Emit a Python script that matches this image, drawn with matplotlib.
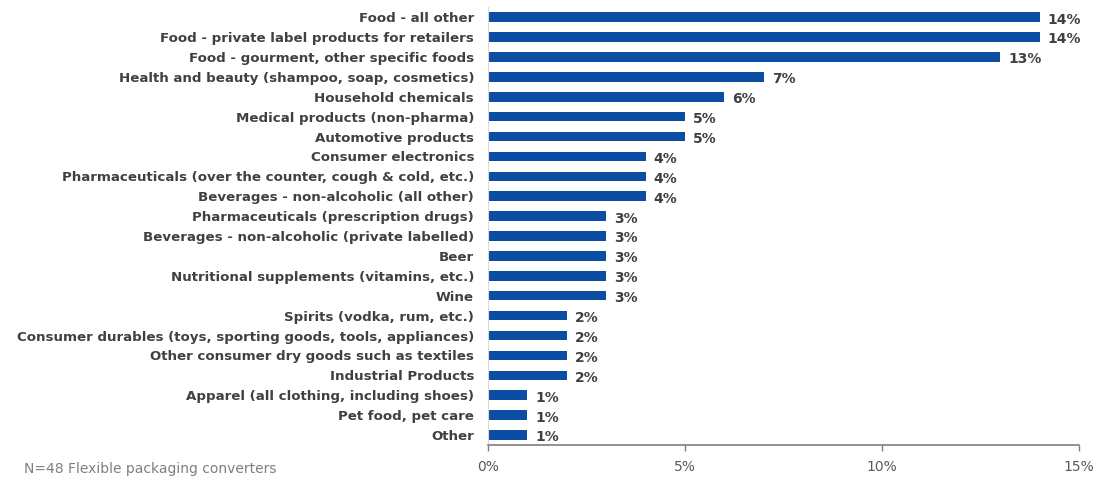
import matplotlib
matplotlib.use("Agg")
import matplotlib.pyplot as plt
from matplotlib.ticker import FuncFormatter

categories = [
    "Food - all other",
    "Food - private label products for retailers",
    "Food - gourment, other specific foods",
    "Health and beauty (shampoo, soap, cosmetics)",
    "Household chemicals",
    "Medical products (non-pharma)",
    "Automotive products",
    "Consumer electronics",
    "Pharmaceuticals (over the counter, cough & cold, etc.)",
    "Beverages - non-alcoholic (all other)",
    "Pharmaceuticals (prescription drugs)",
    "Beverages - non-alcoholic (private labelled)",
    "Beer",
    "Nutritional supplements (vitamins, etc.)",
    "Wine",
    "Spirits (vodka, rum, etc.)",
    "Consumer durables (toys, sporting goods, tools, appliances)",
    "Other consumer dry goods such as textiles",
    "Industrial Products",
    "Apparel (all clothing, including shoes)",
    "Pet food, pet care",
    "Other",
]
shares = [14, 14, 13, 7, 6, 5, 5, 4, 4, 4, 3, 3, 3, 3, 3, 2, 2, 2, 2, 1, 1, 1]
x_ticks = [0, 5, 10, 15]
footnote = "N=48 Flexible packaging converters"

bar_color = "#0B4DA2"
text_color = "#404040"

plt.rcParams['font.family'] = ['DejaVu Sans']

fig = plt.figure(figsize=(11.08, 4.8), dpi=100)
ax = fig.add_axes([0.4404, 0.073, 0.5334, 0.912])

pos = list(range(len(categories)))
ax.barh(pos, shares, height=0.48, color=bar_color)
for p, v in zip(pos, shares):
    ax.text(v + 0.2, p + 0.12, f"{v}%", va="center", ha="left",
            fontsize=10, fontweight="bold", color=text_color)

ax.set_ylim(len(categories) - 0.5, -0.5)
ax.set_xlim(0, 15)
ax.set_yticks(pos)
ax.set_yticklabels(categories, fontsize=9.6, fontweight="bold", color=text_color)
ax.tick_params(axis="y", length=0, pad=10)
ax.set_xticks(x_ticks)
ax.xaxis.set_major_formatter(FuncFormatter(lambda v, _: f"{v:.0f}%"))
ax.tick_params(axis="x", length=4, width=1, color="#7f7f7f", labelsize=10,
               labelcolor="#595959", pad=7)

for s in ["top", "right"]:
    ax.spines[s].set_visible(False)
ax.spines["left"].set_color("#d9d9d9")
ax.spines["bottom"].set_color("#7f7f7f")
ax.spines["bottom"].set_linewidth(1.2)

fig.text(0.022, 0.023, footnote, fontsize=10, color="#7f7f7f", ha="left", va="center")

fig.savefig("out.png", dpi=100)
